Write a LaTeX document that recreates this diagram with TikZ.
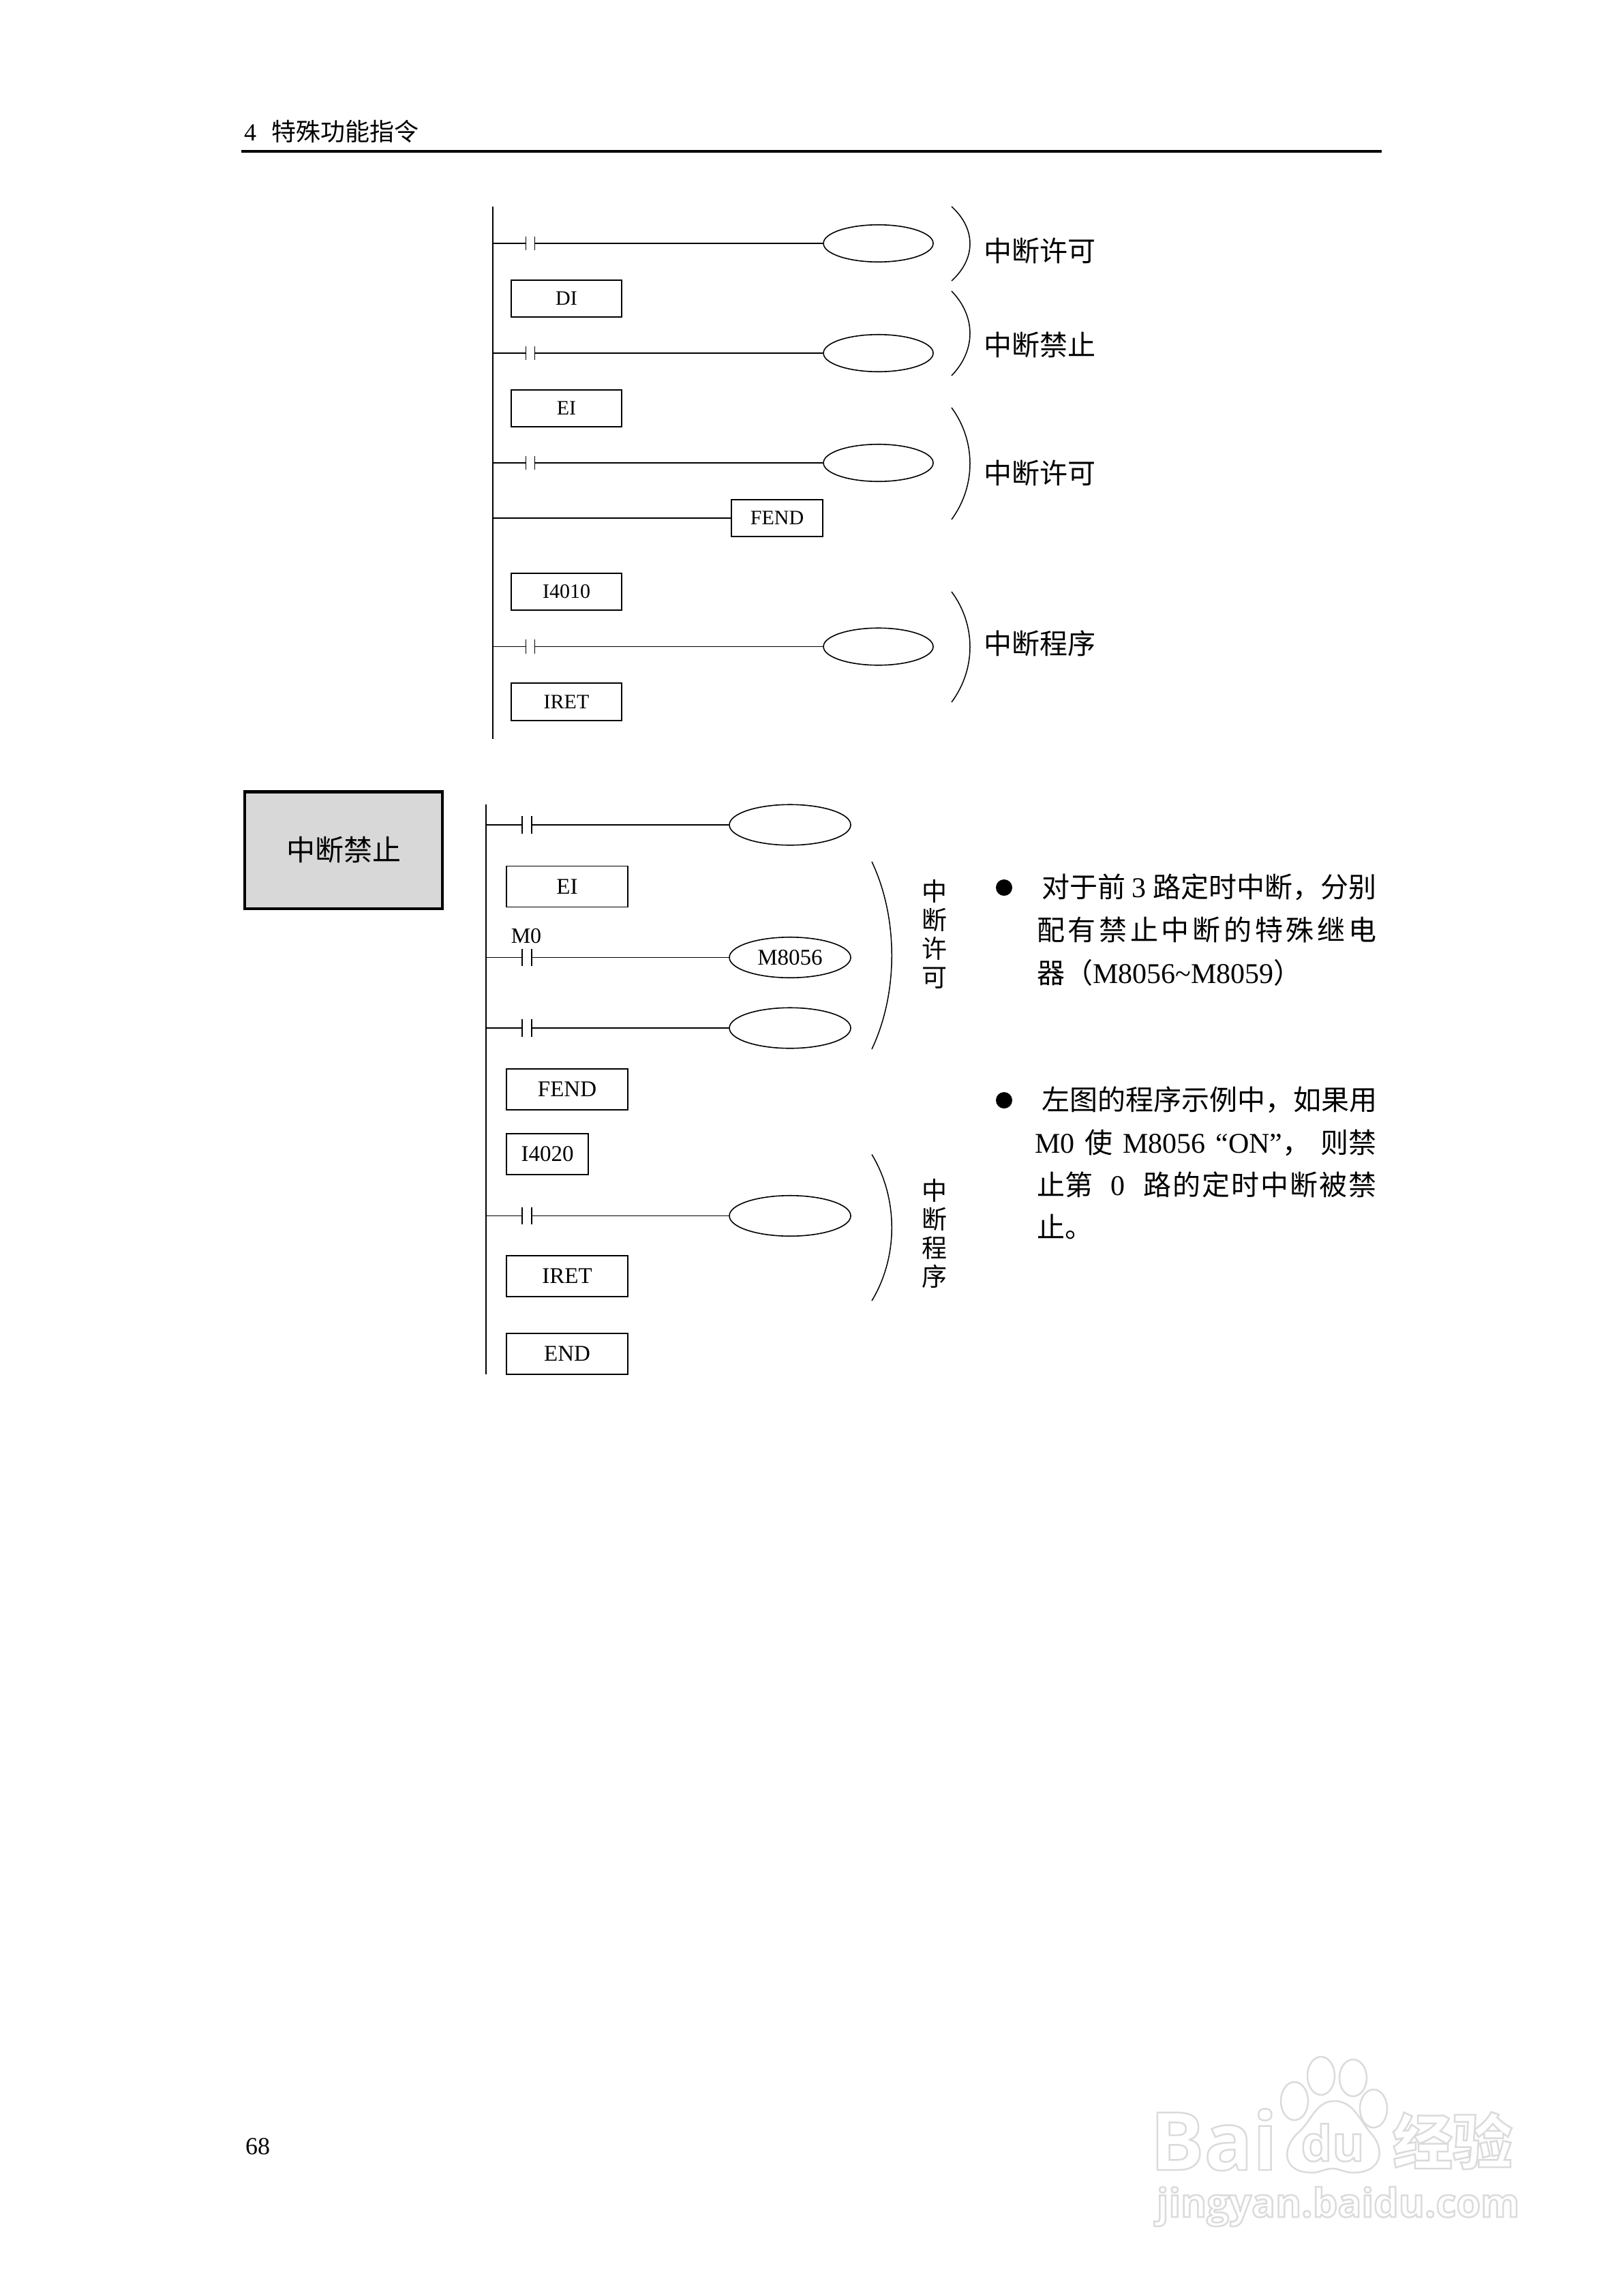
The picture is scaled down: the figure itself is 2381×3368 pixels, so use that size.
\documentclass[tikz,border=0pt]{standalone}
\usepackage{fontspec}
\usetikzlibrary{shapes.geometric}
\setmainfont{Liberation Serif}
\newfontfamily\cjk{Noto Sans CJK SC}
\newfontfamily\wmlatin{Open Sans}
\newcommand{\fsz}[1]{\fontsize{#1}{#1}\selectfont}
\newcommand{\zh}[1]{{\cjk\fsz{41}#1}}
\newcommand{\wmon}{\special{pdf:code 1 Tr 2.5 w 0.86 G 1 g}}
\newcommand{\wmoff}{\special{pdf:code 0 Tr 0 G 0 g}}
\definecolor{panel}{HTML}{D8D8D8}
\tikzset{
  wire/.style={line width=1.8pt,black},
  ladderbox/.style={draw,line width=1.6pt,rectangle,inner sep=0pt},
  coil/.style={draw,line width=1.6pt,ellipse,inner sep=0pt},
  topcontact/.style={rectangle,inner sep=0pt,minimum width=12.5pt,minimum height=20.5pt},
  lowcontact/.style={rectangle,inner sep=0pt,minimum width=13pt,minimum height=25pt},
  topbox/.style={ladderbox,minimum width=161.5pt,minimum height=54.5pt,font=\fsz{30}},
  lowbox/.style={ladderbox,minimum width=178.5pt,minimum height=60pt,font=\fsz{33}},
  topcoil/.style={coil,minimum width=161pt,minimum height=54.5pt},
  lowcoil/.style={coil,minimum width=178pt,minimum height=59.5pt,font=\fsz{33}},
  bigzh/.style={font=\cjk\fsz{41},inner sep=0pt},
  vertzh/.style={font=\cjk\fontsize{37}{42}\selectfont,align=center,inner sep=0pt},
  para/.style={font=\fsz{42},anchor=base west,inner sep=0pt},
  pagetext/.style={anchor=base west,inner sep=0pt,font=\fsz{36}},
  wmline/.style={line width=2.5pt,draw=black!14,fill=white},
}
\newcommand{\rungwire}[1]{%
  \draw[wire] (r#1) -- (c#1.west);
  \draw[wire] (c#1.north west) -- (c#1.south west);
  \draw[wire] (c#1.north east) -- (c#1.south east);
  \draw[wire] (c#1.east) -- (e#1.west);
}
\newcommand{\bendarc}[5]{%
  \coordinate (#1a) at (#2,#4);
  \coordinate (#1b) at (#2,#5);
  \draw[line width=1.5pt] (#1a) .. controls (#3,{#4+0.3*(#5-#4)}) and (#3,{#5-0.3*(#5-#4)}) .. (#1b);
}
\begin{document}
\begin{tikzpicture}[x=1pt,y=-1pt]
\useasboundingbox (0,0) rectangle (2381,3368);
\fill[white] (0,0) rectangle (2381,3368);

% page furniture
\node (head) [pagetext] at (358,206) {4\hspace{22pt}{\cjk 特殊功能指令}};
\coordinate (ruleL) at (354,222);
\coordinate (ruleR) at (2027,222);
\draw[line width=3.5pt] (ruleL) -- (ruleR);
\node (pageno) [pagetext] at (360,3160) {68};

% upper ladder
\coordinate (railAt) at (723,303);
\coordinate (railAb) at (723,1084);
\draw[wire] (railAt) -- (railAb);

\coordinate (ra1) at (723,357);
\node (ca1) [topcontact] at (778,357) {};
\node (ea1) [topcoil] at (1288.5,357) {};
\rungwire{a1}
\node (di) [topbox] at (831,438) {DI};

\coordinate (ra2) at (723,518);
\node (ca2) [topcontact] at (778,518) {};
\node (ea2) [topcoil] at (1288.5,518) {};
\rungwire{a2}
\node (ei1) [topbox] at (831,599) {EI};

\coordinate (ra3) at (723,679);
\node (ca3) [topcontact] at (778,679) {};
\node (ea3) [topcoil] at (1288.5,679) {};
\rungwire{a3}

\coordinate (ra5) at (723,760);
\node (fend1) [topbox,minimum width=134pt] at (1140,760) {FEND};
\draw[wire] (ra5) -- (fend1.west);

\node (i4010) [topbox] at (831,868) {I4010};

\coordinate (ra4) at (723,948.5);
\node (ca4) [topcontact] at (778,948.5) {};
\node (ea4) [topcoil] at (1288.5,948.5) {};
\rungwire{a4}
\node (iret1) [topbox] at (831,1029.5) {IRET};

\bendarc{b1}{1396}{1432}{303}{412}
\bendarc{b2}{1396}{1432}{427}{551}
\bendarc{b3}{1396}{1432}{598}{762}
\bendarc{b4}{1396}{1432}{868}{1030}
\node (t1) [bigzh] at (1525,368) {中断许可};
\node (t2) [bigzh] at (1525,506) {中断禁止};
\node (t3) [bigzh] at (1525,693.5) {中断许可};
\node (t4) [bigzh] at (1525,943.5) {中断程序};

% side panel
\node (panel) [draw,line width=4.5pt,fill=panel,minimum width=290pt,minimum height=171.5pt,inner sep=0pt,font=\cjk\fsz{42}] at (504,1247) {\raisebox{-3pt}{中断禁止}};

% lower ladder
\coordinate (railBt) at (713,1180);
\coordinate (railBb) at (713,2016);
\draw[wire] (railBt) -- (railBb);

\coordinate (rb1) at (713,1210);
\node (cb1) [lowcontact] at (773,1210) {};
\node (eb1) [lowcoil] at (1159,1210) {};
\rungwire{b1}
\node (ei2) [lowbox] at (832,1300.5) {EI};

\node (m0) [inner sep=0pt,font=\fsz{32}] at (772,1373) {M0};
\coordinate (rb2) at (713,1404.5);
\node (cb2) [lowcontact] at (773,1404.5) {};
\node (eb2) [lowcoil] at (1159,1404.5) {M8056};
\rungwire{b2}

\coordinate (rb3) at (713,1508);
\node (cb3) [lowcontact] at (773,1508) {};
\node (eb3) [lowcoil] at (1159,1508) {};
\rungwire{b3}

\node (fend2) [lowbox] at (832,1598) {FEND};
\node (i4020) [lowbox,minimum width=120pt] at (803,1693) {I4020};

\coordinate (rb4) at (713,1783.5);
\node (cb4) [lowcontact] at (773,1783.5) {};
\node (eb4) [lowcoil] at (1159,1783.5) {};
\rungwire{b4}

\node (iret2) [lowbox] at (832,1872) {IRET};
\node (endbox) [lowbox] at (832,1986) {END};

\bendarc{b5}{1279}{1318}{1264}{1539}
\bendarc{b6}{1279}{1318}{1693.5}{1908}
\node (v1) [vertzh] at (1371,1370) {中\\断\\许\\可};
\node (v2) [vertzh] at (1371,1809) {中\\断\\程\\序};

% explanatory text
\node (dot1) [circle,fill=black,minimum size=24pt,inner sep=0pt] at (1473,1302) {};
\node (dot2) [circle,fill=black,minimum size=24pt,inner sep=0pt] at (1473,1614) {};
\node (p1) [para] at (1528,1316) {\makebox[491pt][s]{\zh{对于前}\hfill 3\hfill\zh{路定时中断，分别}}};
\node (p2) [para] at (1521,1379) {\makebox[498pt][s]{\zh{配}\hfill\zh{有}\hfill\zh{禁}\hfill\zh{止}\hfill\zh{中}\hfill\zh{断}\hfill\zh{的}\hfill\zh{特}\hfill\zh{殊}\hfill\zh{继}\hfill\zh{电}}};
\node (p3) [para] at (1521,1442) {\zh{器（}M8056\textasciitilde M8059\zh{）}};
\node (p4) [para] at (1528,1628) {\makebox[491pt][s]{\zh{左图的程序示例中，如果用}}};
\node (p5) [para] at (1518,1691) {\makebox[501pt][s]{M0\hfill\zh{使}\hfill M8056\hfill “ON”\zh{，}\hfill\zh{则禁}}};
\node (p6) [para] at (1521,1753) {\makebox[498pt][s]{\zh{止第}\hfill 0\hfill\zh{路}\hspace{2pt}\zh{的}\hspace{2pt}\zh{定}\hspace{2pt}\zh{时}\hspace{2pt}\zh{中}\hspace{2pt}\zh{断}\hspace{2pt}\zh{被}\hspace{2pt}\zh{禁}}};
\node (p7) [para] at (1521,1815) {\zh{止。}};

% watermark
\draw[wmline] (1899,3082) ellipse [x radius=20,y radius=28];
\draw[wmline] (1938,3045) ellipse [x radius=20,y radius=28];
\draw[wmline] (1985,3048) ellipse [x radius=20,y radius=27];
\draw[wmline] (2015,3093) ellipse [x radius=20,y radius=28];
\draw[wmline] (1958,3082) .. controls (1985,3082) and (1995,3110) .. (2010,3128)
  .. controls (2032,3150) and (2030,3187) .. (1985,3187)
  .. controls (1972,3187) and (1965,3181) .. (1955,3181)
  .. controls (1945,3181) and (1935,3187) .. (1925,3187)
  .. controls (1880,3187) and (1880,3150) .. (1905,3128)
  .. controls (1925,3110) and (1930,3082) .. (1958,3082) -- cycle;
\node (wm1) [anchor=base east,inner sep=0pt,font=\wmlatin\bfseries\fsz{118}] at (1874,3183) {\wmon Bai\wmoff};
\node (wm2) [inner sep=0pt,font=\wmlatin\bfseries\fsz{72}] at (1955,3143) {\wmon du\wmoff};
\node (wm3) [inner sep=0pt,font=\cjk\bfseries\fsz{88}] at (2131,3140) {\wmon 经验\wmoff};
\node (wm4) [anchor=base,inner sep=0pt,font=\wmlatin\bfseries\fsz{58}] at (1963,3252) {\wmon jingyan.baidu.com\wmoff};
\end{tikzpicture}
\end{document}
